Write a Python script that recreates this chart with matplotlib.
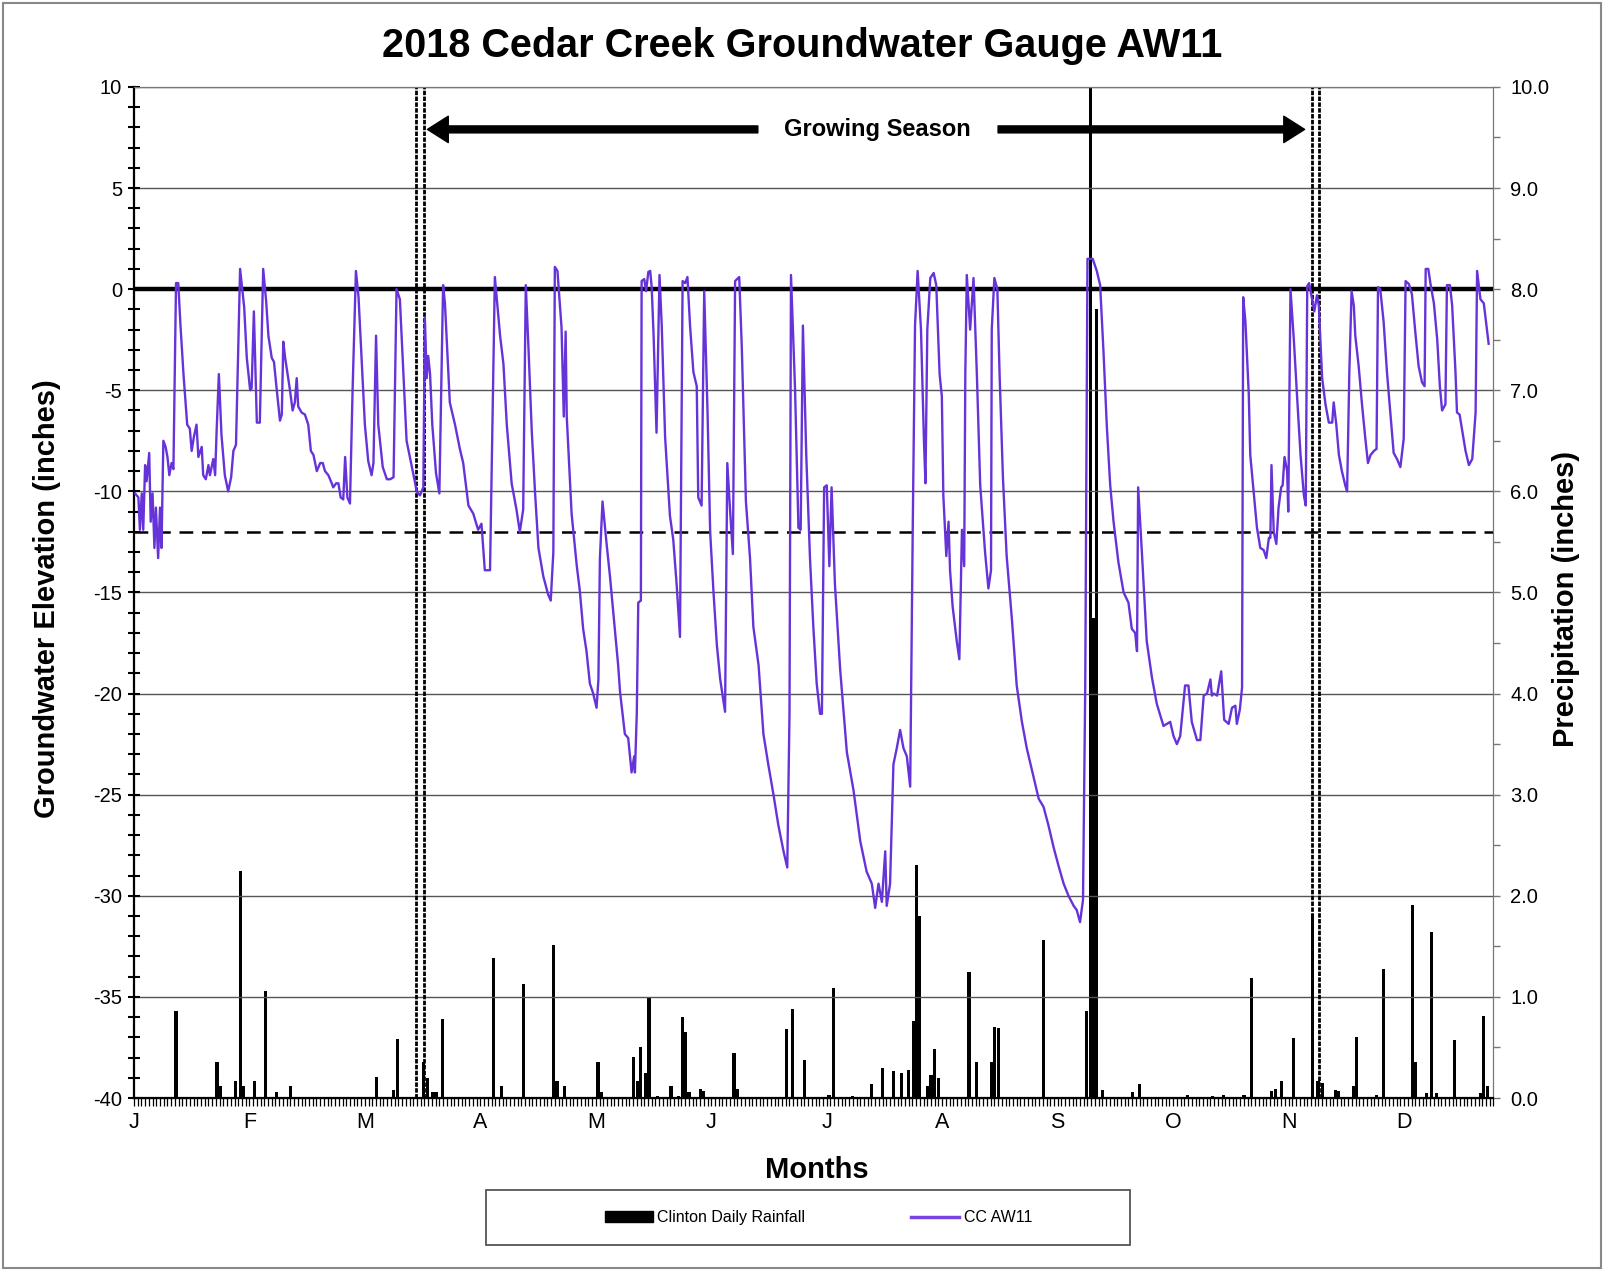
import matplotlib
matplotlib.use('Agg')
import matplotlib.pyplot as plt
from matplotlib.ticker import MultipleLocator, FixedLocator
from matplotlib.patches import Rectangle, Patch
from matplotlib.lines import Line2D

plt.rcParams['font.family'] = ['Liberation Sans', 'DejaVu Sans']
plt.rcParams['axes.unicode_minus'] = False

# groundwater level CC AW11 (inches), x = day of year 2018 (0 = Jan 1)
gw_day = [0.3, 1.2, 1.6, 2.1, 2.5, 3.0, 3.4, 4.1, 4.5, 5.0, 5.5, 5.9, 6.5, 7.0, 7.4, 7.9, 8.5, 9.0, 9.5, 10.1,
          10.6, 11.3, 11.9, 12.5, 13.3, 14.3, 15.0, 15.5, 16.1, 16.8, 17.3, 18.2, 18.6, 19.3, 20.0, 20.4, 21.3,
          21.8, 22.2, 22.8, 23.5, 24.4, 25.3, 26.1, 26.7, 27.4, 28.5, 29.6, 30.3, 31.2, 31.6, 32.2, 33.0, 33.8,
          34.7, 35.5, 36.1, 37.0, 37.6, 38.3, 39.2, 39.7, 40.1, 40.6, 41.0, 41.9, 42.6, 43.2, 43.7, 44.1, 45.0,
          45.9, 46.8, 47.5, 48.2, 49.1, 50.0, 50.7, 51.3, 52.2, 53.1, 53.5, 54.3, 54.9, 55.5, 56.2, 56.7, 57.3,
          58.0, 58.7, 59.6, 60.3, 61.1, 62.0, 62.9, 63.8, 64.3, 65.0, 65.6, 66.8, 67.9, 68.8, 69.7, 70.5,
          71.4, 73.2, 75.4, 75.9, 76.8, 77.7, 78.1, 78.6, 79.0, 79.5, 80.1, 81.1, 82.0, 83.0, 83.5, 84.8, 86.2,
          87.5, 88.4, 89.8, 91.1, 92.4, 93.3, 94.2, 95.6, 96.9, 98.3, 99.2, 100.1, 101.4, 102.7, 103.6, 104.5,
          105.2, 105.9, 106.8, 107.7, 108.6, 109.9, 111.2, 111.9, 112.6, 113.0, 113.7, 114.8, 115.4, 115.9,
          116.2, 117.5, 118.9, 119.7, 120.6, 121.5, 122.4, 123.3, 124.2, 124.7, 125.1, 125.8, 126.9, 127.8,
          128.7, 130.0,
          130.5, 131.8, 132.7, 133.6, 134.3, 134.5, 135.0, 135.4, 136.1, 136.3, 137.0, 137.5, 138.1, 138.6,
          139.0, 139.5, 140.3, 141.1, 141.7, 142.6, 143.9, 144.8, 145.7, 146.6, 147.3, 148.0, 148.6, 149.3,
          150.2, 151.1, 151.5, 152.4, 153.1, 154.0, 154.7, 155.6, 156.5, 157.4, 158.7, 159.3, 160.0, 160.8,
          161.4, 162.5, 163.2, 164.3, 165.4, 166.3, 167.7, 169.0, 170.3, 171.7, 173.0, 174.4, 175.4, 176.0,
          176.4, 177.5, 178.4, 179.0, 179.6, 180.5, 181.5, 182.4, 183.3, 184.2, 184.7, 185.3, 186.0, 186.7,
          187.3, 188.2, 189.6, 191.4, 193.2, 195.0, 196.7, 198.1, 199.0, 199.9, 200.8, 201.7, 202.1, 203.0,
          203.9, 204.8, 205.7,
          206.6, 207.5, 208.4, 209.1, 209.7, 210.4, 211.3, 212.1, 212.5, 213.0, 213.8, 214.7, 215.4, 216.3,
          216.9, 217.3, 218.1, 218.7, 219.1, 219.8, 220.9, 221.6, 222.3, 222.9, 223.2, 223.6, 224.5, 225.4,
          226.3, 227.2, 228.5, 229.4, 230.1, 230.3, 231.0, 231.8, 232.4, 233.3, 234.3, 235.7, 237.0, 238.4,
          239.7, 241.5, 242.9, 244.2, 245.5, 246.9, 248.2, 249.6, 250.9, 252.3, 253.1, 254.0, 254.8, 255.4,
          256.0, 257.4, 258.5, 259.4, 260.3, 261.2, 262.1, 263.0, 264.3, 265.7, 267.0, 267.9, 268.8, 269.3,
          269.6, 270.6, 271.9, 273.3, 274.6, 276.4, 278.2, 279.1, 280.0, 280.9, 282.2, 283.1, 284.0, 285.4,
          286.3, 287.2, 288.1, 289.0, 289.4,
          289.9, 290.8, 291.9, 292.7, 293.9, 294.8, 295.7, 296.1, 296.9, 297.5, 297.8, 298.4, 299.3, 299.7,
          300.6, 301.5, 302.4, 303.3, 304.0, 304.7, 305.1, 305.4, 306.0, 306.7, 307.3, 308.0, 308.4, 308.9,
          309.6, 309.9, 310.5, 311.4, 312.3, 313.2, 314.1, 314.6, 315.0, 315.5, 316.3, 316.9, 317.6, 318.1,
          319.0, 319.9, 320.8, 321.7, 322.1, 322.8, 323.5, 324.3, 325.2, 325.7, 326.3, 326.9, 327.5, 327.9,
          328.8, 329.7, 330.6, 331.3, 332.0, 332.9, 333.6, 334.0, 334.6, 335.5, 336.4, 337.3, 338.2, 339.1,
          340.0, 340.9, 341.4, 342.3, 343.1, 344.0, 344.9, 345.8, 346.5, 346.8, 347.5, 348.1, 349.0, 349.9,
          350.6, 351.2, 352.1, 352.5, 353.3, 353.9, 354.8, 355.2, 355.9, 356.6, 357.5, 358.4, 359.3, 360.2,
          360.6, 361.5, 362.4, 363.7]
gw_level = [-10.1, -10.3, -11.9, -10.1, -11.9, -8.7, -9.5, -8.1, -11.5, -10.1, -12.8, -10.8, -13.3, -10.8,
            -12.8, -7.5, -7.8, -8.3, -9.2, -8.6, -8.9, 0.3, 0.3, -1.8, -4.2, -6.7, -6.9, -8.0, -7.3, -6.7, -8.3,
            -7.8, -9.2, -9.4, -8.7, -9.2, -8.4, -9.2, -7.0, -4.2, -7.2, -9.2, -10.0, -9.3, -8.0, -7.7, 1.0,
            -0.9, -3.4, -5.0, -4.9, -1.1, -6.6, -6.6, 1.0, -0.6, -2.3, -3.4, -3.6, -4.9, -6.5, -6.2, -2.6,
            -3.4, -3.9, -5.0, -6.0, -5.6, -4.4, -5.8, -6.1, -6.2, -6.7, -8.0, -8.2, -9.0, -8.6, -8.6, -9.0,
            -9.2, -9.6, -9.8, -9.6, -9.6, -10.3, -10.4, -8.3, -10.3, -10.6, -5.0, 0.9, -0.4, -3.4, -6.7, -8.5,
            -9.2, -8.6, -2.3, -6.7, -8.8, -9.4, -9.4, -9.3, 0.0,
            -0.5, -7.5, -9.5, -10.0, -10.2, -9.8, -1.4, -4.4, -3.3, -4.2, -6.7, -9.1, -10.1, 0.2, -0.7, -5.6,
            -6.7, -7.9, -8.6, -10.7, -11.1, -11.9, -11.6, -13.9, -13.9, 0.6, -2.3, -3.7, -6.7, -9.6, -10.9,
            -12.0, -10.9, 0.2, -2.8, -7.0, -10.1, -12.8, -14.2, -15.1, -15.4, -13.0, 1.1, 0.9, -1.9, -6.3,
            -2.1, -6.3, -11.1, -13.7, -14.9, -16.8, -17.9, -19.5, -20.0, -20.7, -19.3, -13.3, -10.5, -12.6,
            -14.2, -16.0, -18.6,
            -19.9, -22.0, -22.2, -23.9, -23.1, -23.9, -21.0, -15.5, -15.4, 0.4, 0.5, -0.1, 0.85, 0.9, 0.1,
            -2.2, -7.1, 0.7, -1.8, -7.3, -11.2, -12.4, -14.6, -17.2, 0.4, 0.3, 0.6, -1.8, -4.1, -4.8, -10.3,
            -10.7, -0.1, -6.1, -12.0, -15.0, -17.6, -19.3, -20.9, -8.6, -10.8, -13.1, 0.4, 0.6, -2.9, -10.5,
            -13.3, -16.7, -18.6, -22.0, -23.5, -25.0, -26.5, -27.8, -28.6, -21.0, 0.7, -5.0, -11.8, -11.9,
            -1.8, -8.2, -13.3, -16.7, -19.5, -21.0, -21.0, -9.8, -9.7, -13.7, -9.8, -14.6, -18.8, -22.9,
            -24.8, -27.3, -28.8, -29.4, -30.6, -29.4, -30.3, -27.8, -30.5, -29.4, -23.5, -22.7, -21.8,
            -22.7, -23.1, -24.6, -11.6, -1.8, 0.9, -2.0, -7.5, -9.6, -2.0, 0.55, 0.8, 0.2, -4.2, -5.3, -10.2,
            -13.2, -11.5, -13.9, -15.7, -17.4, -18.3, -11.9, -13.7, -4.2, 0.7, -2.0, 0.55, -4.2, -9.7, -13.0,
            -14.8, -13.9, -2.0, 0.55, 0.0, -4.2, -9.3, -13.2, -16.3, -19.6, -21.4, -22.7, -24.1, -25.2, -25.6,
            -26.5, -27.6, -28.5, -29.4, -30.0, -30.5, -30.7, -31.3, -30.2, -19.6, 1.5, 1.5, 0.9, 0.2, -3.1,
            -6.8, -9.7, -11.5, -13.5, -15.0, -15.5, -16.8, -17.0, -17.9, -9.8, -13.0, -17.4, -19.2, -20.5,
            -21.6, -21.4, -22.1, -22.5, -22.1, -19.6, -19.6, -21.4, -22.3, -22.3, -20.1, -20.0, -19.3, -20.1,
            -20.0, -20.1, -18.9, -21.3, -21.5, -20.7, -20.6, -21.5, -20.8, -19.7, -0.4, -1.6, -5.2, -8.2,
            -10.0, -11.8, -12.8, -12.9, -13.3, -12.3, -12.3, -8.7, -12.0, -12.6, -10.8, -9.8, -9.7, -8.3,
            -9.0, -11.0, 0.0, -2.5, -5.4, -8.2, -10.2, -10.7, 0.15, 0.3, -0.5, -1.1, -0.3, -0.8, -4.4, -5.7,
            -6.6, -6.6, -5.6, -6.7, -8.2, -9.0, -9.7, -10.0, -4.1, -0.1, -0.8, -2.3, -3.8, -5.7, -7.4, -8.6,
            -8.2, -8.0, -7.9, 0.1, 0.0, -1.6, -4.1, -6.1, -8.1, -8.4, -8.8, -7.4, 0.4, 0.25, -0.25, -2.1,
            -3.8, -4.6, -4.8, 1.0, 1.0, 0.25, -0.7, -2.5, -4.8, -6.0, -5.7, 0.2, 0.2, -0.8, -4.1, -6.1, -6.2,
            -7.0, -8.0, -8.7, -8.4, -6.1, 0.9, -0.5, -0.7, -2.7]

# Clinton daily rainfall (inches)
rain_day = [11.3, 22.3, 23.2, 27.2, 28.6, 29.4, 32.4, 35.3, 38.3, 42.1, 65.1, 69.6, 70.8, 77.8, 78.9, 80.2,
            81.1, 82.8, 96.6, 98.6, 104.6, 112.6, 113.6, 115.6, 124.6, 125.6, 134.1, 135.2, 136.1, 137.3,
            138.3, 140.6, 144.2, 146.2, 147.2, 148.0, 149.0, 152.0, 152.9, 161.1, 162.0, 175.3, 176.8, 180.0,
            186.6, 187.9, 193.0, 198.0, 201.0, 204.0, 206.0, 208.0, 209.2, 210.0, 211.0, 213.2, 214.0, 215.0,
            216.0, 224.2, 226.2, 230.2, 231.0, 232.0, 244.3, 255.8, 256.8, 257.6, 258.5, 260.0, 268.0, 270.0,
            282.8, 289.6, 292.5, 298.0, 300.1, 305.4, 306.4, 308.2, 311.3, 316.3, 317.9, 319.0, 322.5, 323.3,
            327.4, 328.3, 333.6, 335.5, 343.3, 344.1, 347.0, 348.3, 349.8, 354.5, 361.5, 362.3, 363.3]
rain_in = [0.86, 0.36, 0.12, 0.17, 2.25, 0.12, 0.17, 1.06, 0.06, 0.12, 0.21, 0.08, 0.58, 0.36, 0.2, 0.06,
           0.06, 0.78, 1.38, 0.12, 1.13, 1.51, 0.17, 0.12, 0.36, 0.06, 0.41, 0.17, 0.5, 0.25,
           1.0, 0.02, 0.12, 0.02, 0.8, 0.65, 0.06, 0.09, 0.07, 0.45, 0.09, 0.68, 0.88, 0.38,
           0.03, 1.09, 0.02, 0.14, 0.30, 0.27, 0.25, 0.28, 0.76, 2.3, 1.8, 0.12, 0.23, 0.48,
           0.2, 1.25, 0.36, 0.36, 0.7, 0.69, 1.56, 0.86, 12.0, 4.75, 7.8, 0.08, 0.06, 0.14,
           0.03, 0.02, 0.03, 0.03, 1.19, 0.07, 0.09, 0.17, 0.59, 1.82, 0.17, 0.15, 0.08, 0.07,
           0.12, 0.6, 0.03, 1.28, 1.91, 0.36, 0.05, 1.64, 0.05, 0.57, 0.05, 0.81, 0.12]

month_ticks = [0, 31, 62, 93, 124, 155, 186, 217, 248, 279, 310, 341]
month_labels = ['J', 'F', 'M', 'A', 'M', 'J', 'J', 'A', 'S', 'O', 'N', 'D']
season_start = [75.6, 77.8]
season_end = [316.3, 318.1]
wet_level = 0
threshold = -12

line_col = '#6633d9'

fig = plt.figure(figsize=(16.04, 12.71), dpi=100)
ax = fig.add_axes([0.0835, 0.1361, 0.8476, 0.7955])
ax2 = ax.twinx()
ax.set_zorder(ax2.get_zorder() + 1)
ax.patch.set_visible(False)

# rainfall on the right axis
ax2.bar(rain_day, rain_in, width=0.85, color='black', linewidth=0)
ax2.set_ylim(0, 10)
ax2.yaxis.set_major_locator(MultipleLocator(1))
ax2.yaxis.set_minor_locator(MultipleLocator(0.5))
ax2.set_yticklabels(['%.1f' % v for v in ax2.get_yticks()])
ax2.tick_params(axis='y', which='both', direction='out', length=5, width=1, color='#777', labelsize=14.5, pad=7)

# groundwater on the left axis
ax.set_xlim(0, 365)
ax.set_ylim(-40, 10)
ax.yaxis.set_major_locator(MultipleLocator(5))
ax.yaxis.set_minor_locator(MultipleLocator(1))
ax.grid(axis='y', which='major', color='#555555', lw=1.0, zorder=0)
ax.axhline(wet_level, color='black', lw=3.2, zorder=2)
ax.axhline(threshold, color='black', lw=1.8, dashes=(5.5, 3.5), zorder=2)
for d in season_start + season_end:
    ax.axvline(d, color='black', lw=2.0, dashes=(1.6, 0.5), zorder=2)
ax.plot(gw_day, gw_level, color=line_col, lw=1.7, zorder=3)

ax.xaxis.set_major_locator(FixedLocator(month_ticks))
ax.set_xticklabels(month_labels)
ax.xaxis.set_minor_locator(MultipleLocator(1))
ax.tick_params(axis='x', which='both', direction='out', length=6, width=0.9, labelsize=15.5, pad=4)
ax.tick_params(axis='y', which='both', direction='inout', length=9, width=1.5, labelsize=14.5, pad=4)

for s in ['left', 'bottom']:
    ax.spines[s].set_linewidth(1.6)
for s in ['top', 'right']:
    ax.spines[s].set_color('#777')
    ax2.spines[s].set_color('#777')
ax2.spines['left'].set_visible(False)

# growing season arrows
ax.annotate('', xy=(78.8, 7.9), xytext=(167.5, 7.9),
            arrowprops=dict(facecolor='black', edgecolor='black', width=5, headwidth=19, headlength=15, shrink=0))
ax.annotate('', xy=(314.3, 7.9), xytext=(232, 7.9),
            arrowprops=dict(facecolor='black', edgecolor='black', width=5, headwidth=19, headlength=15, shrink=0))
ax.text(199.5, 7.9, 'Growing Season', ha='center', va='center', fontsize=17, fontweight='bold')

fig.text(0.5, 0.9638, '2018 Cedar Creek Groundwater Gauge AW11', ha='center', va='center',
         fontsize=28.5, fontweight='bold')
fig.text(0.029, 0.529, 'Groundwater Elevation (inches)', rotation=90, ha='center', va='center',
         fontsize=21, fontweight='bold')
fig.text(0.976, 0.529, 'Precipitation (inches)', rotation=90, ha='center', va='center',
         fontsize=21, fontweight='bold')
fig.text(0.509, 0.0797, 'Months', ha='center', va='center', fontsize=21, fontweight='bold')

# legend
fig.patches.append(Rectangle((0.3029, 0.0201), 0.4018, 0.0435, transform=fig.transFigure,
                             fill=False, edgecolor='#555', lw=1.3))
handles = [Patch(facecolor='black', edgecolor='black'), Line2D([], [], color='#7a44e0', lw=2.5)]
fig.legend(handles, ['Clinton Daily Rainfall', 'CC AW11'], loc='center', bbox_to_anchor=(0.5102, 0.0419),
           ncol=2, frameon=False, fontsize=11.5, handlelength=3.0, handletextpad=0.3, columnspacing=6.6)

fig.patches.append(Rectangle((0.002, 0.002), 0.996, 0.996, transform=fig.transFigure,
                             fill=False, edgecolor='#888', lw=1.5))

fig.savefig('out.png', dpi=100)
